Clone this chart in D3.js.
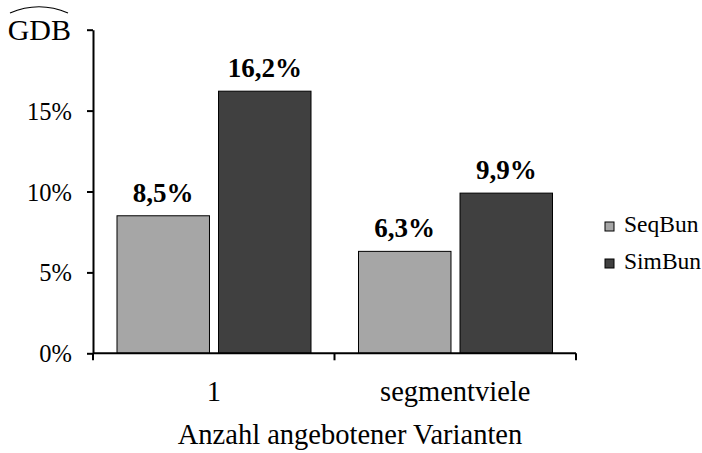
<!DOCTYPE html>
<html>
<head>
<meta charset="utf-8">
<script src="https://cdn.jsdelivr.net/npm/d3@7"></script>
<style>
  html, body { margin: 0; padding: 0; background: #fff; }
  svg { display: block; font-family: "Liberation Serif", "Times New Roman", serif; }
</style>
</head>
<body>
<svg id="chart" width="702" height="453"></svg>
<script>
// Values in percent
const categories = ["1", "segmentviele"];
const seriesNames = ["SeqBun", "SimBun"];
const seqBun = [8.5, 6.3];
const simBun = [16.2, 9.9];
const yTicks = [0, 5, 10, 15, 20];
const yTickLabels = ["0%", "5%", "10%", "15%", ""];
const colors = ["#a6a6a6", "#404040"];

const svg = d3.select("#chart");

const plot = { left: 93, right: 576, top: 29.7, bottom: 353.3 };

const y = d3.scaleLinear().domain([0, 20]).range([plot.bottom, plot.top]);
const x0 = d3.scaleBand().domain(categories).range([plot.left, plot.right]).padding(0);
const x1 = d3.scaleBand().domain(seriesNames).range([24, 218]).paddingInner(0.089).paddingOuter(0);
const color = d3.scaleOrdinal().domain(seriesNames).range(colors);

const rows = categories.map((c, i) => ({ cat: c, values: [
  { name: seriesNames[0], v: seqBun[i] },
  { name: seriesNames[1], v: simBun[i] }
]}));

// Bars
const groups = svg.append("g").selectAll("g").data(rows).join("g")
  .attr("transform", d => `translate(${x0(d.cat)},0)`);

groups.selectAll("rect").data(d => d.values).join("rect")
  .attr("x", d => x1(d.name))
  .attr("y", d => y(d.v))
  .attr("width", x1.bandwidth())
  .attr("height", d => y(0) - y(d.v))
  .attr("fill", d => color(d.name))
  .attr("stroke", "#000")
  .attr("stroke-width", 1);

// Value labels
groups.selectAll("text").data(d => d.values).join("text")
  .attr("x", d => x1(d.name) + x1.bandwidth() / 2)
  .attr("y", d => y(d.v) - 14)
  .attr("text-anchor", "middle")
  .attr("font-weight", "bold")
  .attr("font-size", 27)
  .attr("fill", "#000")
  .text(d => d.v.toFixed(1).replace(".", ",") + "%");

// Y axis
const yAxis = svg.append("g")
  .attr("transform", `translate(${plot.left},0)`)
  .call(d3.axisLeft(y).tickValues(yTicks).tickSize(6).tickSizeOuter(0)
    .tickFormat((d, i) => yTickLabels[i]));
yAxis.select(".domain").attr("stroke", "#000").attr("stroke-width", 2);
yAxis.selectAll(".tick line").attr("stroke", "#000").attr("stroke-width", 2);
yAxis.selectAll(".tick text")
  .attr("x", -21)
  .attr("dy", "0.35em")
  .attr("font-size", 24.5)
  .attr("font-family", "Liberation Serif, Times New Roman, serif")
  .attr("fill", "#000");

// X axis with group boundary ticks
const xAxis = svg.append("g")
  .attr("transform", `translate(0,${plot.bottom})`);
xAxis.append("line")
  .attr("x1", plot.left).attr("x2", plot.right)
  .attr("stroke", "#000").attr("stroke-width", 2);
const boundaries = [plot.left, ...categories.map(c => x0(c) + x0.bandwidth())];
xAxis.selectAll("line.tick").data(boundaries).join("line")
  .attr("class", "tick")
  .attr("x1", d => d).attr("x2", d => d)
  .attr("y1", 0).attr("y2", 7)
  .attr("stroke", "#000").attr("stroke-width", 2);
xAxis.selectAll("text").data(categories).join("text")
  .attr("x", d => x0(d) + x0.bandwidth() / 2)
  .attr("y", 48)
  .attr("text-anchor", "middle")
  .attr("font-size", 28.5)
  .attr("fill", "#000")
  .text(d => d);

// Axis titles
svg.append("text")
  .attr("x", 350)
  .attr("y", 444)
  .attr("text-anchor", "middle")
  .attr("font-size", 28.5)
  .attr("fill", "#000")
  .text("Anzahl angebotener Varianten");

const gdb = svg.append("g");
gdb.append("text")
  .attr("x", 71)
  .attr("y", 40)
  .attr("text-anchor", "end")
  .attr("font-size", 30)
  .attr("fill", "#000")
  .text("GDB");
gdb.append("path")
  .attr("d", "M10,13 Q39,0.5 68,13")
  .attr("fill", "none")
  .attr("stroke", "#000")
  .attr("stroke-width", 1.2);

// Legend
const legend = svg.append("g").selectAll("g").data(seriesNames).join("g")
  .attr("transform", (d, i) => `translate(605,${222 + i * 37})`);
legend.append("rect")
  .attr("width", 9).attr("height", 9)
  .attr("fill", d => color(d))
  .attr("stroke", "#000").attr("stroke-width", 1);
legend.append("text")
  .attr("x", 19)
  .attr("y", 10)
  .attr("font-size", 23.5)
  .attr("fill", "#000")
  .text(d => d);
</script>
</body>
</html>
